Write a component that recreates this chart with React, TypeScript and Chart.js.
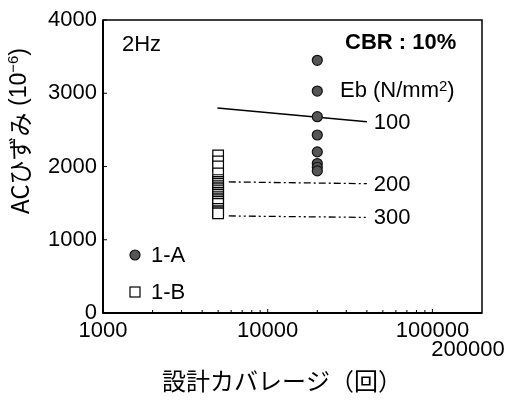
import React, { useEffect, useRef } from 'react';
import { Chart, registerables } from 'chart.js';

Chart.register(...registerables);

// ---- data ----
const X_MIN = 1000;
const X_MAX = 200000;
const Y_MIN = 0;
const Y_MAX = 4000;
const Y_TICKS = [0, 1000, 2000, 3000, 4000];
const X_TICK_LABELS = [1000, 10000, 100000, 200000];
const X_MINOR_TICKS = [2000, 3000, 4000, 5000, 6000, 7000, 8000, 9000, 20000, 30000, 40000, 50000, 60000, 70000, 80000, 90000];

const COVERAGE_1A = 20000;
const STRAIN_1A = [3450, 3030, 2680, 2430, 2200, 2040, 1990, 1940];
const COVERAGE_1B = 5000;
const STRAIN_1B = [2150, 2070, 2000, 1905, 1815, 1790, 1765, 1740, 1715, 1690, 1665, 1640, 1615, 1590, 1565, 1540, 1515, 1490, 1420, 1390, 1375, 1360];

const EB_LABELS = ['100', '200', '300'];
const EB100_X = [4950, 40000];
const EB100_Y = [2800, 2610];
const EB200_X = [5800, 40000];
const EB200_Y = [1790, 1765];
const EB300_X = [5800, 40000];
const EB300_Y = [1325, 1305];

const LATIN = "'Liberation Sans', Arial, sans-serif";
const CJK = "'Noto Sans CJK JP', sans-serif";

const toPts = (xs: number[], ys: number[]) => xs.map((x, i) => ({ x, y: ys[i] }));

const overlay = {
  id: 'overlay',
  afterDraw(chart: any) {
    const ctx = chart.ctx as CanvasRenderingContext2D;
    const a = chart.chartArea;
    const xs = chart.scales.x;
    const ys = chart.scales.y;
    ctx.save();
    ctx.strokeStyle = '#000';
    ctx.fillStyle = '#000';
    // frame
    ctx.lineWidth = 1.5;
    ctx.strokeRect(a.left, a.top, a.right - a.left, a.bottom - a.top);
    ctx.lineWidth = 2;
    ctx.beginPath();
    ctx.moveTo(a.left, a.top);
    ctx.lineTo(a.left, a.bottom);
    ctx.lineTo(a.right, a.bottom);
    ctx.stroke();
    // inward ticks
    ctx.lineWidth = 1;
    ctx.beginPath();
    for (const v of Y_TICKS) {
      const py = ys.getPixelForValue(v);
      ctx.moveTo(a.left, py);
      ctx.lineTo(a.left + 4, py);
    }
    for (const v of X_TICK_LABELS.slice(0, 3)) {
      const px = xs.getPixelForValue(v);
      ctx.moveTo(px, a.bottom);
      ctx.lineTo(px, a.bottom - 4);
    }
    for (const v of X_MINOR_TICKS) {
      const px = xs.getPixelForValue(v);
      ctx.moveTo(px, a.bottom);
      ctx.lineTo(px, a.bottom - 3);
    }
    ctx.stroke();

    // tick labels
    ctx.font = `22px ${LATIN}`;
    ctx.textAlign = 'right';
    ctx.textBaseline = 'middle';
    for (const v of Y_TICKS) {
      ctx.fillText(String(v), a.left - 6, ys.getPixelForValue(v));
    }
    ctx.textAlign = 'center';
    X_TICK_LABELS.forEach((v, i) => {
      const px = xs.getPixelForValue(v);
      if (i === 3) {
        ctx.fillText(String(v), px - 14, a.bottom + 37);
      } else {
        ctx.fillText(String(v), px, a.bottom + 18);
      }
    });

    // axis titles
    ctx.font = `24px ${CJK}`;
    ctx.textAlign = 'center';
    ctx.fillText('設計カバレージ（回）', 282, 381);

    ctx.save();
    ctx.translate(20, 131);
    ctx.rotate(-Math.PI / 2);
    const parts: [string, string, number][] = [
      ['ACひずみ', `24px ${CJK}`, 0],
      [' (10', `23px ${LATIN}`, 0],
      ['−6', `15px ${LATIN}`, -6],
      [')', `23px ${LATIN}`, 0],
    ];
    let total = 0;
    for (const p of parts) { ctx.font = p[1]; total += ctx.measureText(p[0]).width; }
    let cx = -total / 2;
    ctx.textAlign = 'left';
    for (const p of parts) {
      ctx.font = p[1];
      ctx.fillText(p[0], cx, p[2]);
      cx += ctx.measureText(p[0]).width;
    }
    ctx.restore();

    // annotations
    ctx.textAlign = 'left';
    ctx.font = `22px ${LATIN}`;
    ctx.fillText('2Hz', 122, 45);
    ctx.font = `bold 22px ${LATIN}`;
    ctx.fillText('CBR : 10%', 345, 43);
    let ex = 340;
    const ebParts: [string, string, number][] = [
      ['Eb (N/mm', `22px ${LATIN}`, 0],
      ['2', `15px ${LATIN}`, -4],
      [')', `22px ${LATIN}`, 0],
    ];
    for (const p of ebParts) {
      ctx.font = p[1];
      ctx.fillText(p[0], ex, 91 + p[2]);
      ex += ctx.measureText(p[0]).width;
    }
    ctx.font = `22px ${LATIN}`;
    const ebY = [EB100_Y[1], EB200_Y[1], EB300_Y[1]];
    EB_LABELS.forEach((t, i) => {
      ctx.fillText(t, xs.getPixelForValue(EB100_X[1]) + 7, ys.getPixelForValue(ebY[i]) + 1);
    });

    // legend
    ctx.lineWidth = 1.2;
    ctx.fillStyle = '#555';
    ctx.strokeStyle = '#111';
    ctx.beginPath();
    ctx.arc(135, 255, 5, 0, Math.PI * 2);
    ctx.fill();
    ctx.stroke();
    ctx.fillStyle = '#fff';
    ctx.strokeStyle = '#000';
    ctx.fillRect(130, 287, 10, 10);
    ctx.strokeRect(130, 287, 10, 10);
    ctx.fillStyle = '#000';
    ctx.font = `22px ${LATIN}`;
    ctx.fillText('1-A', 151, 256);
    ctx.fillText('1-B', 151, 293);
    ctx.restore();
  },
};

export default function App() {
  const ref = useRef<HTMLCanvasElement>(null);
  useEffect(() => {
    document.body.style.margin = '0';
    const chart = new Chart(ref.current as HTMLCanvasElement, {
      type: 'scatter',
      data: {
        datasets: [
          {
            label: '1-A',
            data: STRAIN_1A.map((y) => ({ x: COVERAGE_1A, y })),
            pointStyle: 'circle',
            pointRadius: 5,
            backgroundColor: '#555',
            borderColor: '#111',
            borderWidth: 1.2,
          },
          {
            label: '1-B',
            data: STRAIN_1B.map((y) => ({ x: COVERAGE_1B, y })),
            pointStyle: 'rect',
            pointRadius: 7.5,
            backgroundColor: '#fff',
            borderColor: '#000',
            borderWidth: 1.2,
          },
          {
            label: 'Eb100',
            data: toPts(EB100_X, EB100_Y),
            showLine: true,
            pointRadius: 0,
            borderColor: '#000',
            borderWidth: 1.5,
          },
          {
            label: 'Eb200',
            data: toPts(EB200_X, EB200_Y),
            showLine: true,
            pointRadius: 0,
            borderColor: '#000',
            borderWidth: 1.3,
            borderDash: [7, 3, 2, 3],
          },
          {
            label: 'Eb300',
            data: toPts(EB300_X, EB300_Y),
            showLine: true,
            pointRadius: 0,
            borderColor: '#000',
            borderWidth: 1.3,
            borderDash: [7, 3, 2, 3, 2, 3],
          },
        ],
      },
      options: {
        responsive: false,
        animation: false,
        layout: { padding: { left: 103, top: 20, right: 31, bottom: 92 } },
        plugins: { legend: { display: false }, tooltip: { enabled: false } },
        scales: {
          x: {
            type: 'logarithmic',
            min: X_MIN,
            max: X_MAX,
            ticks: { display: false },
            grid: { display: false, drawTicks: false },
            border: { display: false },
          },
          y: {
            type: 'linear',
            min: Y_MIN,
            max: Y_MAX,
            ticks: { display: false },
            grid: { display: false, drawTicks: false },
            border: { display: false },
          },
        },
      },
      plugins: [overlay],
    });
    return () => chart.destroy();
  }, []);
  return (
    <div style={{ position: 'fixed', left: 0, top: 0, width: 513, height: 405, background: '#fff' }}>
      <canvas ref={ref} width={513} height={405} />
    </div>
  );
}
